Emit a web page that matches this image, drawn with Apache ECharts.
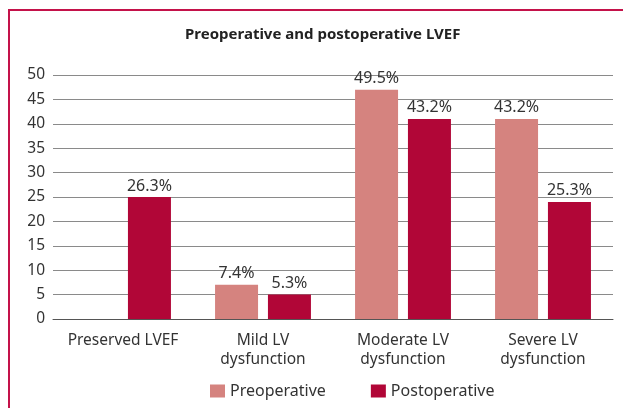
<!DOCTYPE html>
<html>
<head>
<meta charset="utf-8">
<script src="https://cdn.jsdelivr.net/npm/echarts@6/dist/echarts.min.js"></script>
<style>
  html, body { margin: 0; padding: 0; background: #fff; }
  #chart { width: 623px; height: 408px; }
</style>
</head>
<body>
<div id="chart"></div>
<script>
    var categories = ['Preserved LVEF', 'Mild LV\ndysfunction', 'Moderate LV\ndysfunction', 'Severe LV\ndysfunction'];
    var preValues = [0, 7, 47, 41];
    var postValues = [25, 5, 41, 24];
    var preLabels = ['', '7.4%', '49.5%', '43.2%'];
    var postLabels = ['26.3%', '5.3%', '43.2%', '25.3%'];
    var fontName = 'Noto Sans';

    var chart = echarts.init(document.getElementById('chart'));

    function labelFrom(list) {
        return {
            show: true,
            position: 'top',
            distance: 3,
            color: '#333',
            fontFamily: fontName,
            fontSize: 16,
            formatter: function (p) { return list[p.dataIndex]; }
        };
    }

    var option = {
        animation: false,
        textStyle: { fontFamily: fontName },
        graphic: [{
            type: 'rect',
            shape: { x: 9, y: 10, width: 800, height: 600 },
            style: { fill: 'none', stroke: '#c4124a', lineWidth: 2 },
            silent: true
        }],
        title: {
            text: 'Preoperative and postoperative LVEF',
            left: 180,
            top: 22,
            textStyle: { fontSize: 15, fontWeight: 'bold', color: '#222', fontFamily: fontName }
        },
        legend: {
            top: 378,
            left: 205,
            itemWidth: 15,
            itemHeight: 13,
            itemGap: 45,
            icon: 'rect',
            textStyle: { fontSize: 16, color: '#333', fontFamily: fontName },
            data: ['Preoperative', 'Postoperative']
        },
        grid: { left: 53, right: 10, top: 75, bottom: 89 },
        xAxis: {
            type: 'category',
            data: categories,
            axisLine: { show: true, lineStyle: { color: '#555' } },
            axisTick: { show: false },
            axisLabel: {
                interval: 0,
                margin: 12,
                fontSize: 15.5,
                lineHeight: 19,
                color: '#333',
                fontFamily: fontName
            }
        },
        yAxis: {
            type: 'value',
            min: 0,
            max: 50,
            interval: 5,
            axisLine: { show: false },
            axisTick: { show: false },
            splitLine: { lineStyle: { color: '#8a8a8a', width: 1 } },
            axisLabel: { fontSize: 15.5, color: '#333', margin: 8, fontFamily: fontName }
        },
        series: [{
            name: 'Preoperative',
            type: 'bar',
            barWidth: 43,
            barGap: '23%',
            itemStyle: { color: '#d5837f' },
            label: labelFrom(preLabels),
            data: preValues
        }, {
            name: 'Postoperative',
            type: 'bar',
            barWidth: 43,
            itemStyle: { color: '#b10637' },
            label: labelFrom(postLabels),
            data: postValues
        }]
    };
    chart.setOption(option);
</script>
</body>
</html>
